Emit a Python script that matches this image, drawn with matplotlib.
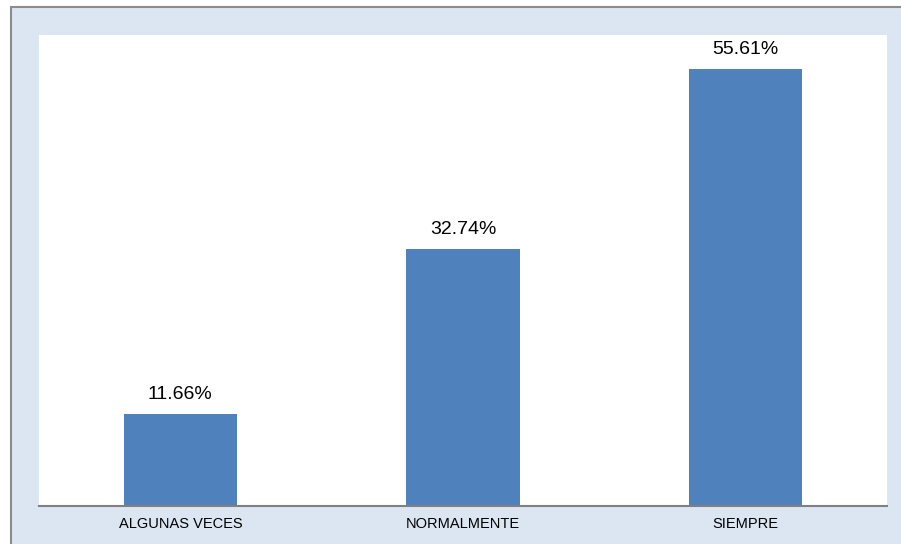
import matplotlib.pyplot as plt
from matplotlib.patches import Rectangle

plt.rcParams['font.family'] = ['Liberation Sans', 'DejaVu Sans']

# Data
categories = ['ALGUNAS VECES', 'NORMALMENTE', 'SIEMPRE']
values = [11.66, 32.74, 55.61]
value_labels = ['11.66%', '32.74%', '55.61%']

W, H = 901, 544
fig = plt.figure(figsize=(W / 100, H / 100), dpi=100)
fig.patch.set_facecolor('white')

# Chart area background with border (runs off the right and bottom edges)
fig.patches.append(Rectangle((11 / W, -0.05), 1.1, 1.05 - 7 / H,
                             transform=fig.transFigure, facecolor='#DCE6F2',
                             edgecolor='#8C8C8C', linewidth=1.5, zorder=-10))

ax = fig.add_axes([39 / W, (H - 506) / H, 848 / W, 471 / H])
ax.set_facecolor('white')

x = range(len(categories))
bars = ax.bar(x, values, width=0.4, color='#4F81BD', zorder=2)

for xi, v, lab in zip(x, values, value_labels):
    ax.annotate(lab, (xi, v), xytext=(0, 8), textcoords='offset points',
                ha='center', va='bottom', fontsize=14, color='black')

ax.set_xlim(-0.5, 2.5)
ax.set_ylim(0, 60)
ax.set_xticks(list(x))
ax.set_xticklabels(categories, fontsize=10.5)
ax.tick_params(axis='x', length=0, pad=8)
ax.set_yticks([])

for side in ['top', 'right', 'left']:
    ax.spines[side].set_visible(False)
ax.spines['bottom'].set_color('#808080')
ax.spines['bottom'].set_linewidth(1.5)

fig.savefig('out.png', dpi=100)
